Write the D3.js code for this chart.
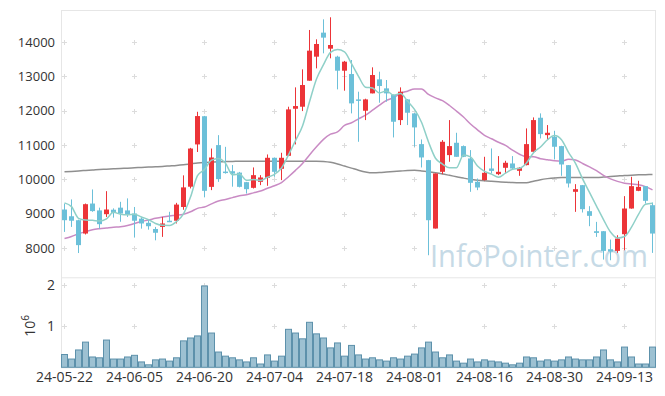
<!DOCTYPE html>
<html><head><meta charset="utf-8">
<script src="https://cdn.jsdelivr.net/npm/d3@7"></script>
<style>body{margin:0;background:#fff}svg{display:block}</style>
</head><body>
<script>
const dates = ["24-05-22","24-05-23","24-05-24","24-05-27","24-05-28","24-05-29","24-05-30","24-05-31","24-06-03","24-06-04",
"24-06-05","24-06-07","24-06-10","24-06-11","24-06-12","24-06-13","24-06-14","24-06-17","24-06-18","24-06-19",
"24-06-20","24-06-21","24-06-24","24-06-25","24-06-26","24-06-27","24-06-28","24-07-01","24-07-02","24-07-03",
"24-07-04","24-07-05","24-07-08","24-07-09","24-07-10","24-07-11","24-07-12","24-07-15","24-07-16","24-07-17",
"24-07-18","24-07-19","24-07-22","24-07-23","24-07-24","24-07-25","24-07-26","24-07-29","24-07-30","24-07-31",
"24-08-01","24-08-02","24-08-05","24-08-06","24-08-07","24-08-08","24-08-09","24-08-12","24-08-13","24-08-14",
"24-08-16","24-08-19","24-08-20","24-08-21","24-08-22","24-08-23","24-08-26","24-08-27","24-08-28","24-08-29",
"24-08-30","24-09-02","24-09-03","24-09-04","24-09-05","24-09-06","24-09-09","24-09-10","24-09-11","24-09-12",
"24-09-13","24-09-19","24-09-20","24-09-23","24-09-24"];
const open  = [9126,8930,8815,8427,9300,9100,8990,9120,9180,9100,9010,8860,8740,8560,8620,8800,8800,9200,9790,11020,
11840,9785,11000,10230,10240,10200,9922,9757,9932,10049,10631,10311,10689,12058,12117,12874,13573,14272,13806,13573,
13165,13068,12330,12000,12505,12913,12651,12457,11728,12330,11923,11029,10563,8573,10223,10709,11068,10971,10612,9932,
9981,10320,10155,10340,10466,10252,10418,10806,11796,11291,11243,10971,10417,9641,9835,9078,8495,8495,7971,7922,
8408,9155,9670,9806,9252];
const high  = [9300,9420,8830,9300,9710,9180,9660,9160,9350,9450,9200,8900,8840,8620,8910,9060,9320,10120,10920,11970,
11850,10900,11290,10950,10420,10220,9930,10350,10126,10728,10640,10777,12117,12680,13204,14350,14078,14660,14719,13600,
13450,13476,12554,12350,13263,13136,12894,12470,12680,12340,11930,11165,10570,10175,11146,11728,11359,10990,10855,10029,
10660,10903,10680,10544,10680,10360,11486,11806,11923,11583,11417,10980,10420,9864,9840,9223,8767,8500,8252,8378,
9515,10078,9961,9810,9330];
const low   = [8475,8620,7860,8400,9060,8570,8910,8890,8770,8910,8310,8570,8540,8230,8330,8760,8720,9120,9740,10800,
9480,9690,9930,10170,9790,9770,9590,9738,9835,9816,10078,9981,10680,11020,11990,12874,13233,13670,13525,12622,
12583,11923,11097,11728,12505,12233,12262,11223,11583,11583,10951,10350,7796,8573,10155,10515,10660,10650,9641,9689,
9970,10175,10126,10175,10300,10107,10410,10800,11194,11146,10583,10107,9767,9058,9039,8641,8330,7670,7650,7864,
7941,9150,9660,9301,7864];
const close = [8815,8800,8090,9281,9080,8700,9126,9030,9010,8990,8800,8720,8640,8450,8720,8780,9270,9770,10900,11845,
9670,10640,10010,10190,10170,9786,9718,10126,10058,10631,10223,10631,12039,12136,12748,13748,13942,14127,13913,13165,
13427,12214,12292,12330,13039,12719,12505,11680,12554,11942,11515,10641,8815,10175,11097,10971,10660,10660,9903,9767,
10194,10250,10223,10486,10320,10340,11029,11728,11320,11359,10952,10437,9884,9718,9136,8942,8446,7922,7903,8281,
9155,9806,9786,9379,8427];
const volume = [0.31,0.20,0.42,0.61,0.25,0.23,0.66,0.20,0.20,0.25,0.29,0.13,0.06,0.18,0.20,0.15,0.23,0.64,0.71,0.76,
1.97,0.83,0.37,0.27,0.23,0.18,0.13,0.23,0.08,0.30,0.15,0.27,0.92,0.83,0.69,1.09,0.81,0.71,0.47,0.59,
0.27,0.53,0.30,0.20,0.23,0.18,0.15,0.23,0.20,0.27,0.32,0.47,0.61,0.37,0.23,0.30,0.15,0.10,0.20,0.13,
0.18,0.15,0.13,0.10,0.06,0.10,0.25,0.23,0.15,0.18,0.15,0.18,0.25,0.20,0.18,0.18,0.25,0.42,0.18,0.13,
0.49,0.25,0.08,0.08,0.49];
const ma5 = [9320,9210,8870,8820,8813,8790,8855,9043,8989,8971,8991,8910,8832,8720,8666,8662,8772,8998,9488,10113,
10291,10565,10613,10471,10136,10159,9975,9998,9972,10064,10151,10334,10716,11132,11555,12260,12923,13340,13696,13779,
13715,13369,13002,12686,12660,12519,12577,12455,12499,12280,12039,11666,11093,10618,10449,10340,10344,10713,10658,10392,
10237,10155,10067,10184,10295,10324,10480,10781,10947,11155,11278,11159,10790,10470,10025,9623,9225,8833,8470,8299,
8341,8613,8986,9281,9311];
const ma20 = [8281,8340,8420,8480,8540,8570,8590,8610,8625,8660,8720,8780,8820,8870,8910,8940,8960,8990,9060,9160,
9200,9290,9372,9417,9472,9526,9555,9610,9663,9745,9816,9911,10081,10266,10467,10715,10949,11167,11318,11384,
11571,11650,11764,11871,12015,12161,12301,12378,12503,12569,12633,12634,12473,12375,12292,12153,11989,11816,11615,11445,
11284,11185,11082,10990,10854,10735,10661,10664,10602,10573,10545,10534,10588,10565,10467,10365,10255,10118,10018,9944,
9892,9869,9848,9792,9698];
const ma120 = [10223,10235,10250,10262,10275,10290,10300,10312,10322,10330,10340,10350,10360,10370,10380,10395,10410,10430,10455,10480,
10495,10505,10515,10520,10525,10530,10533,10533,10533,10533,10533,10533,10533,10533,10533,10533,10533,10525,10500,10450,
10390,10330,10270,10220,10195,10200,10215,10230,10245,10260,10265,10250,10225,10195,10160,10120,10080,10040,10005,9980,
9960,9945,9932,9920,9910,9905,9905,9950,9995,10025,10045,10055,10058,10060,10060,10060,10060,10070,10085,10100,
10115,10126,10135,10140,10145];
const priceTicks = [8000,9000,10000,11000,12000,13000,14000];
const volTicks = [1,2];

const W = 665, H = 396;
const svg = d3.select("body").append("svg").attr("width", W).attr("height", H);
const L = 61, R = 656, T = 10, PB = 277.3, VB = 367.3;
const idx = d3.range(dates.length);
const x = d3.scaleBand().domain(idx).range([L, R]).padding(0);
const cx = i => x(i) + x.bandwidth() / 2;
const y = d3.scaleLinear().domain([7154, 14931]).range([PB, T]);
const yv = d3.scaleLinear().domain([0, 2.18]).range([VB, PB]);

const font = "'Open Sans', 'Noto Sans', sans-serif";
const gridCol = "#dcdcdc";

// frame
svg.append("rect").attr("x", L + 0.5).attr("y", T + 0.5).attr("width", R - L - 1).attr("height", VB - T)
  .attr("fill", "none").attr("stroke", "#e6e6e6");
svg.append("line").attr("x1", L).attr("x2", R).attr("y1", PB + 0.5).attr("y2", PB + 0.5).attr("stroke", "#e6e6e6");

const tickIdx = idx.filter(i => i % 10 === 0);
function cross(px, py) {
  svg.append("path").attr("d", `M${px - 2.5},${py}H${px + 2.5}M${px},${py - 2.5}V${py + 2.5}`)
    .attr("stroke", gridCol).attr("stroke-width", 1);
}
tickIdx.forEach(i => {
  priceTicks.forEach(t => cross(Math.round(cx(i)) - 0.5, Math.round(y(t)) + 0.5));
  volTicks.forEach(t => cross(Math.round(cx(i)) - 0.5, Math.round(yv(t)) + 0.5));
});

// watermark
svg.append("text").attr("x", 430).attr("y", 267).text("InfoPointer.com")
  .attr("font-family", font).attr("font-size", 31).attr("fill", "#c6dae6")
  .attr("textLength", 218).attr("lengthAdjust", "spacingAndGlyphs");

// MA lines
const lineGen = arr => d3.line().x((d, i) => cx(i)).y(d => y(d)).curve(d3.curveMonotoneX)(arr);
svg.append("path").attr("d", lineGen(ma120)).attr("fill", "none").attr("stroke", "#8f8f8f").attr("stroke-width", 1.5);
svg.append("path").attr("d", lineGen(ma20)).attr("fill", "none").attr("stroke", "#c98bc4").attr("stroke-width", 1.5);

// candles
const up = "#ec3438", down = "#6cc0d9";
const g = svg.append("g");
idx.forEach(i => {
  const col = close[i] >= open[i] ? up : down;
  const xc = Math.round(cx(i)) - 0.5;
  g.append("line").attr("x1", xc).attr("x2", xc).attr("y1", y(high[i])).attr("y2", y(low[i]))
    .attr("stroke", col).attr("stroke-width", 1);
  const top = y(Math.max(open[i], close[i])), bot = y(Math.min(open[i], close[i]));
  g.append("rect").attr("x", xc - 2.5).attr("width", 5).attr("y", top).attr("height", Math.max(1.5, bot - top))
    .attr("fill", col);
});
svg.append("path").attr("d", lineGen(ma5)).attr("fill", "none").attr("stroke", "#8fd0c8").attr("stroke-width", 1.5);

// volume bars
svg.append("g").selectAll("rect").data(volume).join("rect")
  .attr("x", (d, i) => x(i) + 0.5).attr("width", x.bandwidth() - 1)
  .attr("y", d => yv(d)).attr("height", d => VB - yv(d))
  .attr("fill", "#9dc1d2").attr("stroke", "#5d91ab").attr("stroke-width", 1);

// axes labels
svg.append("g").selectAll("text").data(priceTicks).join("text")
  .attr("x", 55).attr("y", d => y(d)).attr("dy", "0.35em").attr("text-anchor", "end")
  .attr("font-family", font).attr("font-size", 13).attr("fill", "#333").text(d => d);
svg.append("g").selectAll("text").data(volTicks).join("text")
  .attr("x", 55).attr("y", d => yv(d)).attr("dy", "0.35em").attr("text-anchor", "end")
  .attr("font-family", font).attr("font-size", 14).attr("fill", "#333").text(d => d);
svg.append("g").selectAll("text").data(tickIdx).join("text")
  .attr("x", i => cx(i)).attr("y", 382).attr("text-anchor", "middle")
  .attr("font-family", font).attr("font-size", 14).attr("fill", "#333").text(i => dates[i]);
const lab = svg.append("text").attr("transform", "translate(35,326) rotate(-90)")
  .attr("text-anchor", "middle").attr("font-family", font).attr("font-size", 14).attr("fill", "#333");
lab.append("tspan").text("10");
lab.append("tspan").attr("dy", -6).attr("font-size", 10).text("6");
</script>
</body></html>
